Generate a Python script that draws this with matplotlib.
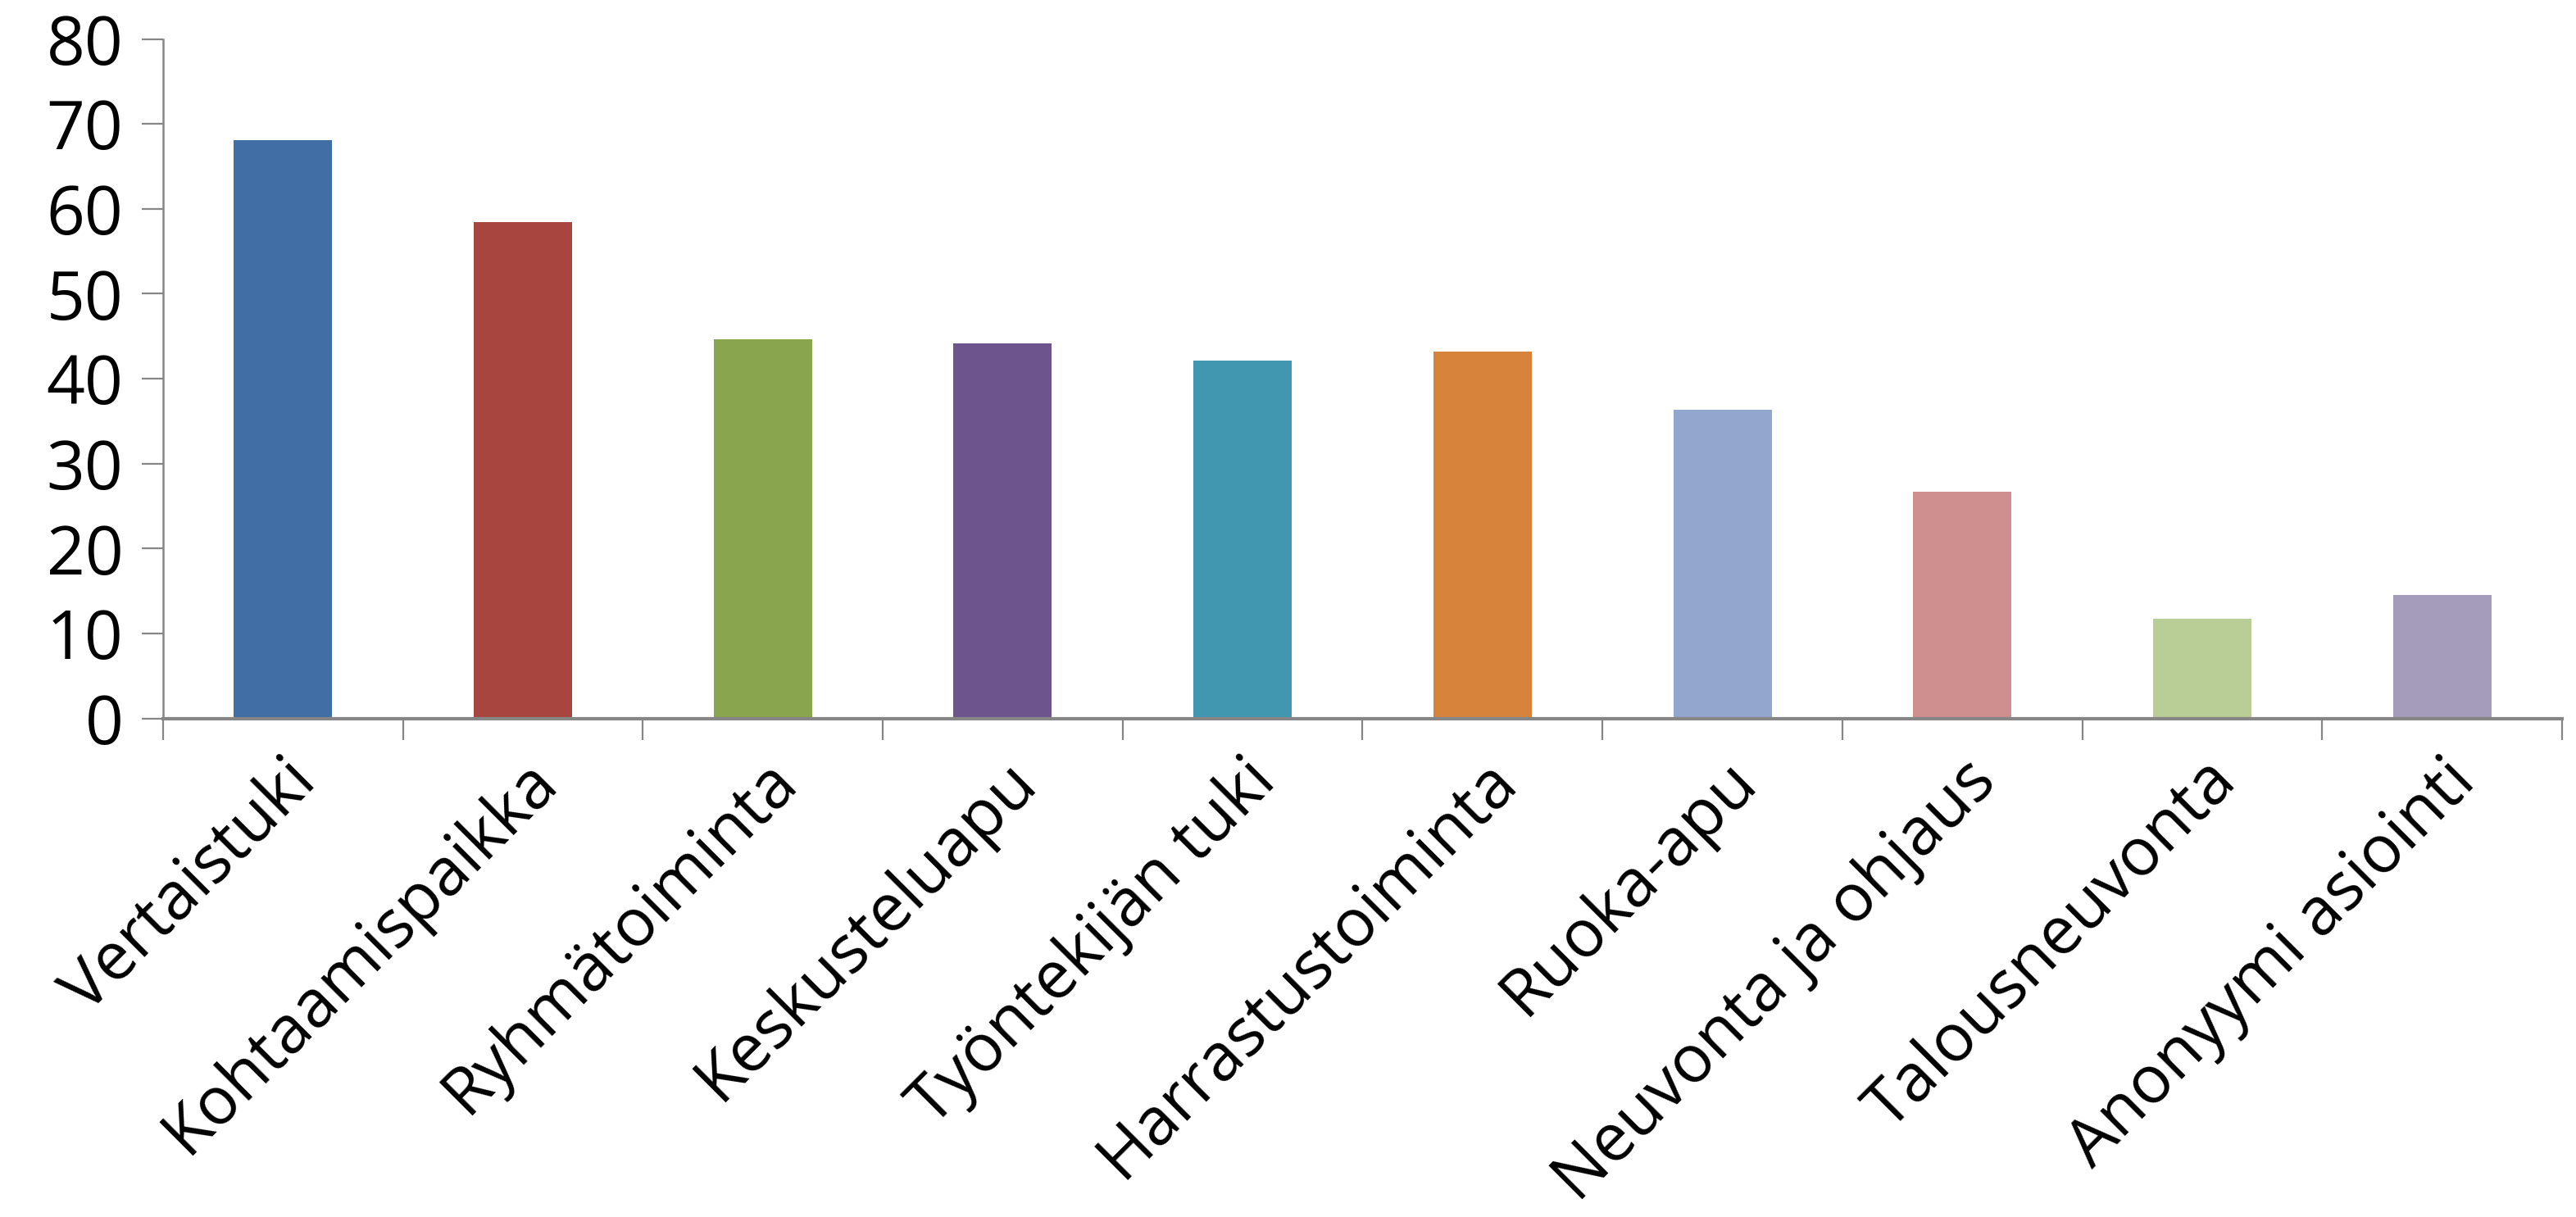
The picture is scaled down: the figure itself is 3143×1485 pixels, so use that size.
import matplotlib
matplotlib.use("Agg")
import matplotlib.pyplot as plt
import numpy as np

categories = ["Vertaistuki", "Kohtaamispaikka", "Ryhmätoiminta", "Keskusteluapu",
              "Työntekijän tuki", "Harrastustoiminta", "Ruoka-apu",
              "Neuvonta ja ohjaus", "Talousneuvonta", "Anonyymi asiointi"]
values = [68.1, 58.4, 44.6, 44.2, 42.1, 43.2, 36.3, 26.7, 11.7, 14.5]
colors = ["#416EA4", "#A8453F", "#89A54E", "#6E548D", "#4197AF",
          "#D7833B", "#93A6CD", "#CE8F8E", "#B9CD96", "#A59BBA"]
yticks = [0, 10, 20, 30, 40, 50, 60, 70, 80]

plt.rcParams['font.family'] = ['Open Sans', 'DejaVu Sans']

fig = plt.figure(figsize=(31.43, 14.85), dpi=100)
ax = fig.add_axes([0.0633, 0.4097, 0.9313, 0.5583])

x = np.arange(len(categories))
ax.bar(x, values, width=0.41, color=colors, zorder=2)

ax.set_xlim(-0.5, len(categories) - 0.5)
ax.set_ylim(0, 80)
ax.set_yticks(yticks)
ax.set_yticklabels([str(v) for v in yticks], fontsize=59)

ax.set_xticks(x)
ax.set_xticklabels(categories, rotation=45, ha='right', va='top',
                   rotation_mode='anchor', fontsize=58)
for lbl in ax.get_xticklabels():
    lbl.set_x(lbl.get_position()[0])
ax.tick_params(axis='x', which='major', length=0, pad=26)
ax.set_xticks(np.arange(len(categories) + 1) - 0.5, minor=True)
ax.tick_params(axis='x', which='minor', length=19, width=1.6, color='#868686')
ax.tick_params(axis='y', length=19, width=1.6, color='#868686', pad=16)

for s in ['top', 'right']:
    ax.spines[s].set_visible(False)
ax.spines['left'].set_color('#868686')
ax.spines['left'].set_linewidth(1.8)
ax.spines['bottom'].set_color('#868686')
ax.spines['bottom'].set_linewidth(3.0)

fig.savefig("out.png", dpi=100)
